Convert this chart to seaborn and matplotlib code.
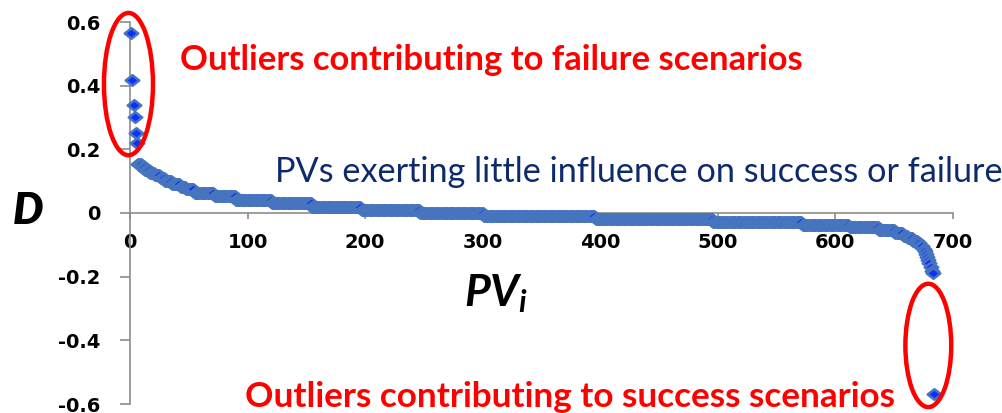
import numpy as np
import pandas as pd
import matplotlib
matplotlib.use("Agg")
import matplotlib.pyplot as plt
from matplotlib.patches import Ellipse
from matplotlib.path import Path
import seaborn as sns

# ---------------- data ----------------
outliers_top = [0.566, 0.419, 0.338, 0.300, 0.250, 0.220]
run_lengths = [3, 3, 4, 4, 5, 4, 6, 7, 5, 7, 17, 18, 31, 34, 42, 50, 54, 95, 100, 76, 40, 25, 14, 7, 4, 4, 4, 2, 3]
run_levels = [0.155, 0.145, 0.135, 0.127, 0.118, 0.110, 0.100, 0.091, 0.083, 0.075,
              0.063, 0.052, 0.041, 0.031, 0.020, 0.010, 0.000, -0.010, -0.019, -0.029,
              -0.037, -0.045, -0.052, -0.062, -0.071, -0.079, -0.087, -0.095, -0.104]
tail_values = [-0.112, -0.120, -0.128, -0.138, -0.148, -0.158, -0.170, -0.183, -0.190]
outlier_bottom = [-0.569]
y_ticks = [-0.6, -0.4, -0.2, 0.0, 0.2, 0.4, 0.6]
y_tick_labels = ["-0.6", "-0.4", "-0.2", "0", "0.2", "0.4", "0.6"]
x_ticks = [0, 100, 200, 300, 400, 500, 600, 700]

D = np.concatenate([outliers_top, np.repeat(run_levels, run_lengths), tail_values, outlier_bottom])
df = pd.DataFrame({"PV": np.arange(1, len(D) + 1), "D": D})

# ---------------- figure ----------------
W, H = 1003, 413
sns.set_theme(style="white")
plt.rcParams["font.family"] = ["Lato", "DejaVu Sans"]
plt.rcParams["mathtext.fontset"] = "custom"
plt.rcParams["mathtext.it"] = "Lato:italic:bold"
plt.rcParams["mathtext.rm"] = "Lato:bold"

fig = plt.figure(figsize=(W / 100, H / 100), dpi=100)
ax = fig.add_axes([130 / W, 9 / H, 823 / W, 382 / H])

diamond = Path([(-1, 0), (0, 0.78), (1, 0), (0, -0.78), (-1, 0)],
               [Path.MOVETO, Path.LINETO, Path.LINETO, Path.LINETO, Path.CLOSEPOLY])
sns.scatterplot(data=df, x="PV", y="D", ax=ax, marker=diamond, s=95,
                color="#0a30ff", edgecolor="#4674be", linewidth=1.8,
                clip_on=False, zorder=3, legend=False)

ax.set_xlim(0, 700)
ax.set_ylim(-0.6, 0.6)
ax.set_xlabel("")
ax.set_ylabel("")
for s in ["top", "right"]:
    ax.spines[s].set_visible(False)
ax.spines["bottom"].set_position(("data", 0))
for s in ["left", "bottom"]:
    ax.spines[s].set_color("#8c8c8c")
    ax.spines[s].set_linewidth(1.2)
    ax.spines[s].set_zorder(1)

ax.set_yticks(y_ticks)
ax.set_yticklabels(y_tick_labels)
ax.set_xticks(x_ticks)
ax.tick_params(axis="y", direction="out", length=7, width=1.2, color="#8c8c8c",
               pad=14, labelsize=14, left=True)
ax.tick_params(axis="x", direction="out", length=4.5, width=1.2, color="#8c8c8c",
               pad=10, labelsize=14, bottom=True)
for lab in ax.get_xticklabels() + ax.get_yticklabels():
    lab.set_fontfamily("DejaVu Sans")
    lab.set_fontweight("heavy")
    lab.set_color("black")

# ellipses
ax.add_patch(Ellipse((-1.3, 0.405), 41.7, 0.447, fill=False, edgecolor="#ff0000",
                     linewidth=3.2, clip_on=False, zorder=4))
ax.add_patch(Ellipse((679, -0.416), 39, 0.3875, fill=False, edgecolor="#ff0000",
                     linewidth=3.2, clip_on=False, zorder=4))

# texts (positioned in figure pixels)
def ftext(x, y, s, **kw):
    return fig.text(x / W, 1 - y / H, s, **kw)

t1 = ftext(180, 60, "Outliers contributing to failure scenarios", color="#ff0000",
           fontweight="bold", fontsize=22, ha="left", va="center")
t2 = ftext(275, 172, "PVs exerting little influence on success or failure", color="#0d2a6b",
           fontsize=22, ha="left", va="center")
t3 = ftext(245, 397, "Outliers contributing to success scenarios", color="#ff0000",
           fontweight="bold", fontsize=22, ha="left", va="center")
ftext(28, 211, "D", fontsize=31, fontweight="heavy", fontstyle="italic",
      ha="center", va="center", color="black")
ftext(464, 306, r"$PV_i$", fontsize=32, ha="left", va="baseline", color="black")

def fit_width(t, target):
    for _ in range(2):
        fig.canvas.draw()
        w = t.get_window_extent(fig.canvas.get_renderer()).width
        t.set_fontsize(t.get_fontsize() * target / w)

fit_width(t1, 623)
fit_width(t2, 725)
fit_width(t3, 650)

fig.savefig("out.png", dpi=100)
